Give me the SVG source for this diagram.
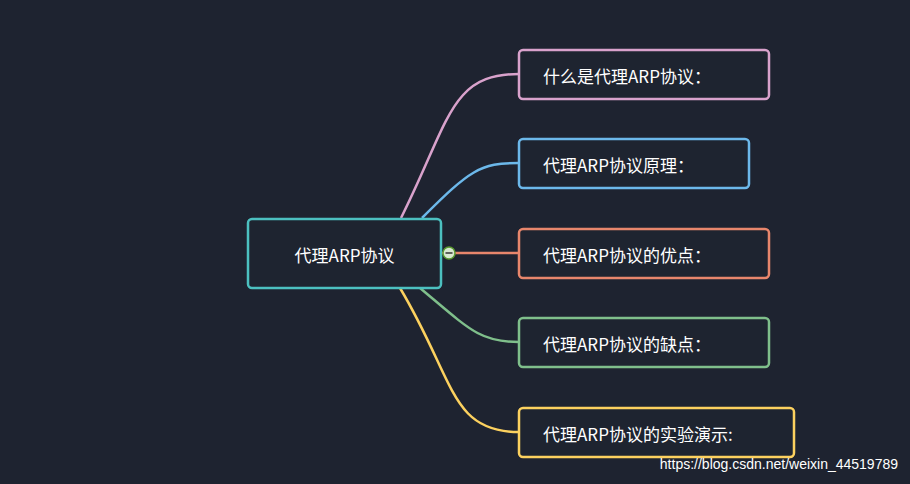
<svg xmlns="http://www.w3.org/2000/svg" width="910" height="484" viewBox="0 0 910 484">
<style>
.n{fill:#1e2430;stroke-width:2.5}
.t{fill:#fff;font-family:"Noto Sans CJK SC","Noto Sans",sans-serif;font-size:17px;dominant-baseline:central}
.c{fill:none;stroke-width:2.5}
</style>
<rect width="910" height="484" fill="#1e2330"/>
<g id="connectors">
<path class="c" stroke="#d9a2cc" d="M401 218 C450 120 450 74 519 74"/>
<path class="c" stroke="#6cb8ea" d="M422 218 C470 170 480 163 519 163"/>
<path class="c" stroke="#e8866c" d="M441 253 L519 253"/>
<path class="c" stroke="#7fbf8b" d="M420 288 C470 330 480 342 519 342"/>
<path class="c" stroke="#fcd15f" d="M400 288 C455 380 450 432 519 432"/>
</g>
<g id="root"><rect class="n" x="248" y="219" width="193" height="69" rx="4" stroke="#4cc0c0"/><text class="t" x="344.5" y="254" text-anchor="middle" font-size="21">代理ARP协议</text></g>
<g id="toggle"><circle cx="449" cy="253" r="6" fill="#d8e8d0" stroke="#5a9a30" stroke-width="1.5"/><line x1="445.5" y1="253" x2="452.5" y2="253" stroke="#333" stroke-width="1.5"/></g>
<g id="n1"><rect class="n" x="519" y="50" width="250" height="49" rx="4" stroke="#d9a2cc"/><text class="t" x="543" y="75">什么是代理ARP协议：</text></g>
<g id="n2"><rect class="n" x="519" y="139" width="230" height="49" rx="4" stroke="#6cb8ea"/><text class="t" x="543" y="164">代理ARP协议原理：</text></g>
<g id="n3"><rect class="n" x="519" y="229" width="250" height="49" rx="4" stroke="#e8866c"/><text class="t" x="543" y="254">代理ARP协议的优点：</text></g>
<g id="n4"><rect class="n" x="519" y="318" width="250" height="49" rx="4" stroke="#7fbf8b"/><text class="t" x="543" y="343">代理ARP协议的缺点：</text></g>
<g id="n5"><rect class="n" x="519" y="408" width="275" height="49" rx="4" stroke="#fcd15f"/><text class="t" x="543" y="433">代理ARP协议的实验演示:</text></g>
<text x="898" y="469" text-anchor="end" fill="#fff" font-family="Liberation Sans,sans-serif" font-size="14">https://blog.csdn.net/weixin_44519789</text>
</svg>
